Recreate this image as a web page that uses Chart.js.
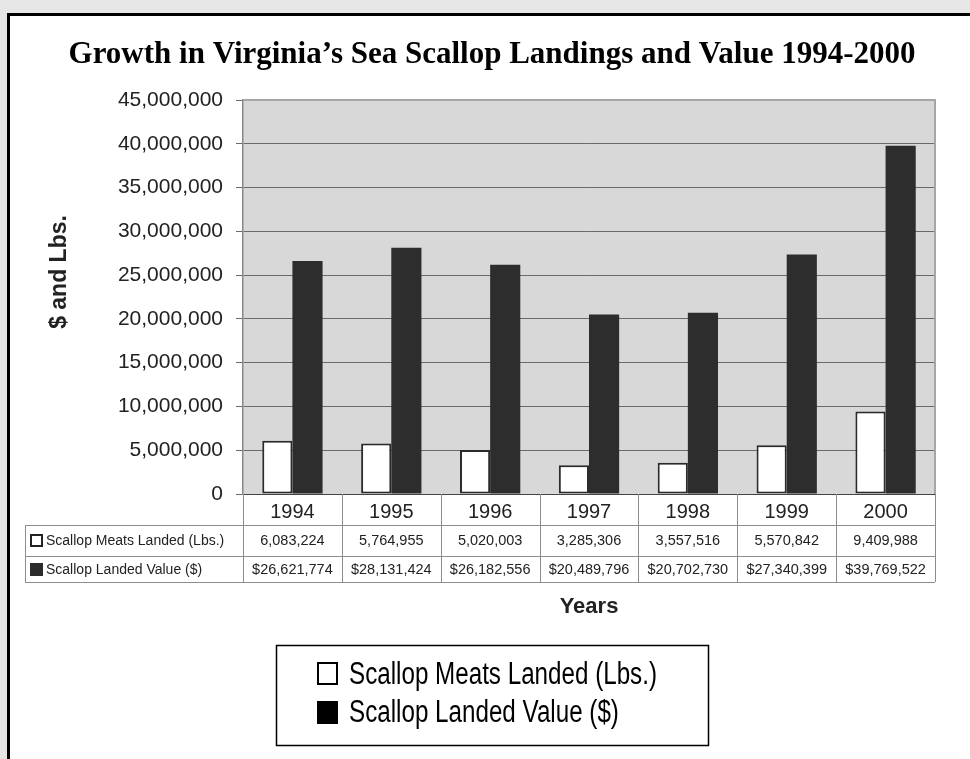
<!DOCTYPE html>
<html lang="en">
<head>
<meta charset="utf-8">
<title>Virginia Sea Scallop Landings</title>
<script src="https://cdn.jsdelivr.net/npm/chart.js"></script>
<style>
  body { margin: 0; background: #e6e6e6; }
  canvas { display: block; }
</style>
</head>
<body>
<canvas id="scallopChart" width="970" height="759"></canvas>
<script>
  var years = ['1994', '1995', '1996', '1997', '1998', '1999', '2000'];
  var meatsLbs = [6083224, 5764955, 5020003, 3285306, 3557516, 5570842, 9409988];
  var landedValue = [26621774, 28131424, 26182556, 20489796, 20702730, 27340399, 39769522];
  var seriesNames = ['Scallop Meats Landed (Lbs.)', 'Scallop Landed Value ($)'];
  var yMax = 45000000;
  var yStep = 5000000;

  var SANS = '"Liberation Sans", Arial, sans-serif';

  function fmt(n) { return n.toLocaleString('en-US'); }

  // narrow-looking text: squeeze regular sans horizontally
  function narrowText(c, txt, x, y, squeeze) {
    c.save();
    c.translate(x, y);
    c.scale(squeeze, 1);
    c.fillText(txt, 0, 0);
    c.restore();
  }

  // frame, plot fill, table, titles, legend
  var decor = {
    id: 'decor',
    beforeDraw: function (chart) {
      var c = chart.ctx, a = chart.chartArea;
      c.save();
      c.fillStyle = '#e6e6e6';
      c.fillRect(0, 0, chart.width, chart.height);
      c.fillStyle = '#ffffff';
      c.fillRect(10, 16, chart.width - 10, chart.height - 16);
      c.strokeStyle = '#000';
      c.lineWidth = 3;
      c.beginPath();
      c.moveTo(8.5, chart.height);
      c.lineTo(8.5, 14.5);
      c.lineTo(chart.width, 14.5);
      c.stroke();
      c.fillStyle = '#d8d8d8';
      c.fillRect(a.left, a.top, a.right - a.left, a.bottom - a.top);
      c.restore();
    },
    beforeDatasetsDraw: function (chart) {
      var c = chart.ctx, a = chart.chartArea;
      c.save();
      c.strokeStyle = '#a6a6a6';
      c.lineWidth = 2;
      c.beginPath();
      c.moveTo(a.left, a.top);
      c.lineTo(a.right, a.top);
      c.lineTo(a.right, a.bottom);
      c.stroke();
      c.restore();
    },
    afterDraw: function (chart) {
      var c = chart.ctx, a = chart.chartArea;
      var x = chart.scales.x;
      var colW = (a.right - a.left) / years.length;
      var rowTop = a.bottom, r1 = 525, r2 = 556, r3 = 582, tableLeft = 25;
      c.save();

      // table grid
      c.strokeStyle = '#8c8c8c';
      c.lineWidth = 1;
      c.beginPath();
      for (var i = 0; i <= years.length; i++) {
        var vx = Math.round(a.left + i * colW) + 0.5;
        c.moveTo(vx, rowTop);
        c.lineTo(vx, r3);
      }
      [r1, r2, r3].forEach(function (ry) {
        c.moveTo(tableLeft, ry + 0.5);
        c.lineTo(a.right, ry + 0.5);
      });
      c.moveTo(tableLeft + 0.5, r1);
      c.lineTo(tableLeft + 0.5, r3);
      c.stroke();

      // table values
      c.fillStyle = '#222';
      c.font = '14.5px ' + SANS;
      c.textAlign = 'center';
      c.textBaseline = 'middle';
      years.forEach(function (yr, i) {
        var cx = x.getPixelForValue(i);
        c.fillText(fmt(meatsLbs[i]), cx, 541);
        c.fillText('$' + fmt(landedValue[i]), cx, 570);
      });

      // row labels with key squares
      c.textAlign = 'left';
      c.font = '14px ' + SANS;
      c.fillText(seriesNames[0], 46, 541);
      c.fillText(seriesNames[1], 46, 570);
      c.fillStyle = '#fff';
      c.strokeStyle = '#222';
      c.lineWidth = 2;
      c.fillRect(31, 535, 11, 11);
      c.strokeRect(31, 535, 11, 11);
      c.fillStyle = '#2b2b2b';
      c.fillRect(30, 563, 13, 13);

      // axis titles
      c.fillStyle = '#222';
      c.font = 'bold 22px ' + SANS;
      c.textAlign = 'center';
      c.fillText('Years', (a.left + a.right) / 2, 607);
      c.save();
      c.translate(60, 272);
      c.rotate(-Math.PI / 2);
      c.font = 'bold 23px ' + SANS;
      c.fillText('$ and Lbs.', 0, 0);
      c.restore();

      // chart title
      c.fillStyle = '#000';
      c.font = 'bold 31px "Liberation Serif", "Times New Roman", serif';
      c.textBaseline = 'alphabetic';
      c.fillText('Growth in Virginia\u2019s Sea Scallop Landings and Value 1994-2000', 492, 63);

      // legend box
      c.strokeStyle = '#000';
      c.lineWidth = 1.5;
      c.strokeRect(276.5, 645.5, 432, 100);
      c.fillStyle = '#fff';
      c.strokeStyle = '#000';
      c.lineWidth = 2;
      c.fillRect(318, 663, 19, 21);
      c.strokeRect(318, 663, 19, 21);
      c.fillStyle = '#000';
      c.fillRect(317, 701, 21, 23);
      c.font = '31px ' + SANS;
      c.textAlign = 'left';
      c.textBaseline = 'middle';
      var squeeze = 308 / c.measureText(seriesNames[0]).width;
      narrowText(c, seriesNames[0], 349, 675, squeeze);
      narrowText(c, seriesNames[1], 349, 713, squeeze);
      c.restore();
    }
  };

  var ctx = document.getElementById('scallopChart').getContext('2d');
  var scallopChart = new Chart(ctx, {
    type: 'bar',
    data: {
      labels: years,
      datasets: [{
        label: seriesNames[0],
        data: meatsLbs,
        backgroundColor: '#ffffff',
        borderColor: '#2b2b2b',
        borderWidth: 2,
        borderSkipped: false
      }, {
        label: seriesNames[1],
        data: landedValue,
        backgroundColor: '#2d2d2d',
        borderColor: '#2d2d2d',
        borderWidth: 0
      }]
    },
    options: {
      responsive: false,
      animation: false,
      layout: { padding: { left: 0, top: 100, right: 35, bottom: 0 } },
      datasets: { bar: { categoryPercentage: 0.61, barPercentage: 1.0 } },
      plugins: {
        legend: { display: false },
        title: { display: false },
        tooltip: { enabled: false }
      },
      scales: {
        x: {
          grid: { display: false },
          border: { display: true, color: '#444', width: 1 },
          ticks: { color: '#222', font: { family: SANS, size: 20 }, padding: -2 },
          afterFit: function (s) { s.height = 759 - 494; }
        },
        y: {
          min: 0,
          max: yMax,
          grid: { color: '#6a6a6a', lineWidth: 1, tickLength: 7, drawTicks: true },
          border: { display: true, color: '#888', width: 1.5 },
          ticks: {
            stepSize: yStep,
            color: '#222',
            padding: 13,
            font: { family: SANS, size: 21 },
            callback: function (v) { return fmt(v); }
          },
          afterFit: function (s) { s.width = 243; }
        }
      }
    },
    plugins: [decor]
  });
</script>
</body>
</html>
